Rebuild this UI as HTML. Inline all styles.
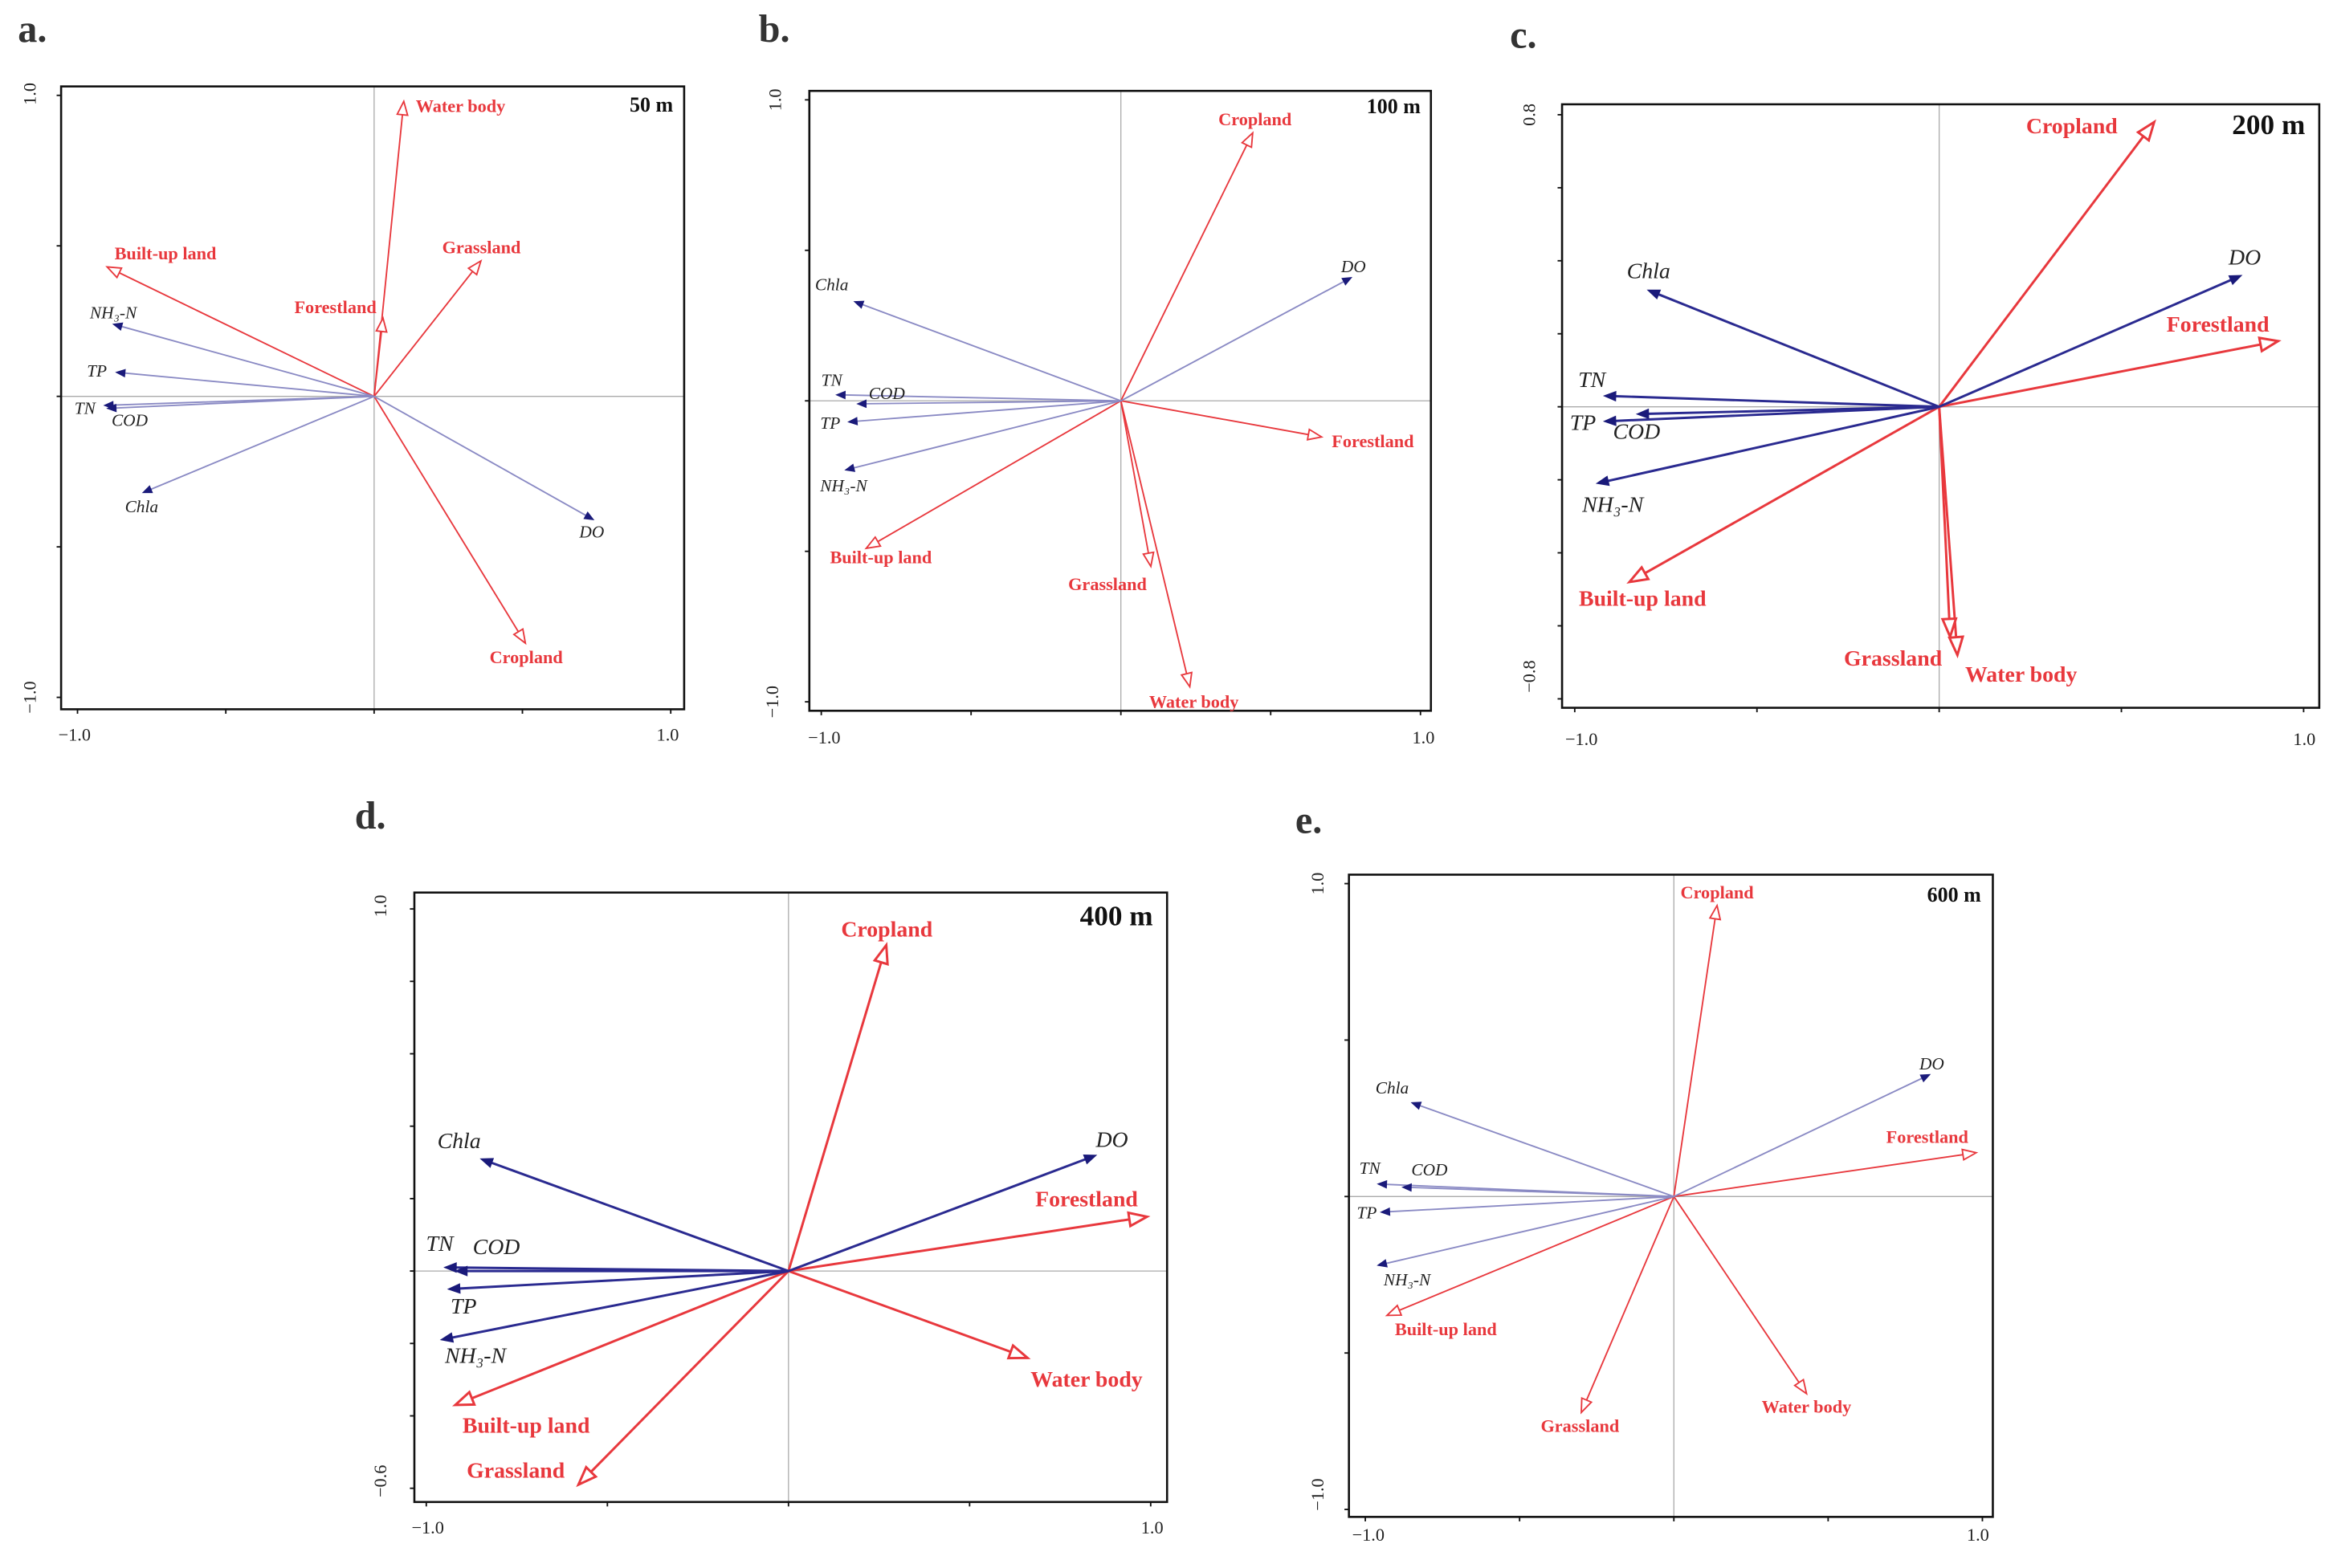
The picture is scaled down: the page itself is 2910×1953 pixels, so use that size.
<!DOCTYPE html>
<html><head><meta charset="utf-8"><style>
html,body{margin:0;padding:0;background:#fff}
svg{display:block}
text{font-family:"Liberation Serif",serif}
</style></head><body>
<svg id="fig" width="2910" height="1953" viewBox="0 0 1567.9 1052.3" preserveAspectRatio="none" xmlns="http://www.w3.org/2000/svg"></svg>
<script>
const envNames=["Water body","Built-up land","Grassland","Forestland","Cropland"];
const varNames=["NH₃-N","TP","TN","COD","Chla","DO"];
const aEnvX=[0.10,-0.90,0.36,0.03,0.51], aEnvY=[0.98,0.43,0.45,0.26,-0.82];
const aVarX=[-0.88,-0.87,-0.91,-0.90,-0.78,0.74], aVarY=[0.24,0.08,-0.03,-0.04,-0.32,-0.41];
const bEnvX=[0.23,-0.85,0.10,0.67,0.44], bEnvY=[-0.95,-0.49,-0.55,-0.12,0.89];
const bVarX=[-0.92,-0.91,-0.95,-0.88,-0.89,0.77], bVarY=[-0.23,-0.07,0.02,-0.01,0.33,0.41];
const cEnvX=[0.05,-0.85,0.03,0.93,0.59], cEnvY=[-0.68,-0.48,-0.63,0.18,0.78];
const cVarX=[-0.94,-0.92,-0.92,-0.83,-0.80,0.83], cVarY=[-0.21,-0.04,0.03,-0.02,0.32,0.36];
const dEnvX=[0.66,-0.92,-0.58,0.99,0.27], dEnvY=[-0.24,-0.37,-0.59,0.15,0.90];
const dVarX=[-0.96,-0.94,-0.95,-0.92,-0.85,0.85], dVarY=[-0.19,-0.05,0.01,0.00,0.31,0.32];
const eEnvX=[0.43,-0.93,-0.30,0.98,0.14], eEnvY=[-0.63,-0.38,-0.69,0.14,0.93];
const eVarX=[-0.96,-0.95,-0.96,-0.88,-0.85,0.83], eVarY=[-0.22,-0.05,0.04,0.03,0.30,0.39];
const aXTicks=[-1,-0.5,0,0.5,1], aYTicks=[-1,-0.5,0,0.5,1];
const cYTicks=[-0.8,-0.6,-0.4,-0.2,0,0.2,0.4,0.6,0.8];
const dYTicks=[-0.6,-0.4,-0.2,0,0.2,0.4,0.6,0.8,1.0];

const panels=[
 {id:"a",letter:"a.",lx:12,ly:28,scale:"50 m",sx:437,sy:75,frame:[41,58,459,476],cx:251,cy:266,ux:199,uy:202,
  ex:aEnvX,ey:aEnvY,vx:aVarX,vy:aVarY,xt:aXTicks,yt:aYTicks,big:false,
  xl:[["−1.0",50,497],["1.0",448,497]],yl:[["1.0",20,63],["−1.0",20,468]],
  envL:[[309,71],[111,170],[323,166],[225,206],[353,441]],varL:[[76,210],[65,249],[57,274],[87,282],[95,340],[397,357]]},
 {id:"b",letter:"b.",lx:509,ly:28,scale:"100 m",sx:935,sy:76,frame:[543,61,960,477],cx:752,cy:269,ux:201,uy:202,
  ex:bEnvX,ey:bEnvY,vx:bVarX,vy:bVarY,xt:aXTicks,yt:aYTicks,big:false,
  xl:[["−1.0",553,499],["1.0",955,499]],yl:[["1.0",520,67],["−1.0",518,471]],
  envL:[[801,471],[591,374],[743,392],[921,296],[842,80]],varL:[[566,326],[557,284],[558,255],[595,264],[558,191],[908,179]]},
 {id:"c",letter:"c.",lx:1013,ly:32,scale:"200 m",sx:1522,sy:90,frame:[1048,70,1556,475],cx:1301,cy:273,ux:244.5,uy:245,
  ex:cEnvX,ey:cEnvY,vx:cVarX,vy:cVarY,xt:aXTicks,yt:cYTicks,big:true,
  xl:[["−1.0",1061,500],["1.0",1546,500]],yl:[["0.8",1026,77],["−0.8",1026,454]],
  envL:[[1356,453],[1102,402],[1270,442],[1488,218],[1390,85]],varL:[[1082,339],[1062,284],[1068,255],[1098,290],[1106,182],[1506,173]]},
 {id:"d",letter:"d.",lx:238,ly:556,scale:"400 m",sx:749,sy:621,frame:[278,599,783,1008],cx:529,cy:853,ux:243,uy:243,
  ex:dEnvX,ey:dEnvY,vx:dVarX,vy:dVarY,xt:aXTicks,yt:dYTicks,big:true,
  xl:[["−1.0",287,1029],["1.0",773,1029]],yl:[["1.0",255,608],["−0.6",255,994]],
  envL:[[729,926],[353,957],[346,987],[729,805],[595,624]],varL:[[319,910],[311,877],[295,835],[333,837],[308,766],[746,765]]},
 {id:"e",letter:"e.",lx:869,ly:559,scale:"600 m",sx:1311,sy:605,frame:[905,587,1337,1018],cx:1123,cy:803,ux:207,uy:210,
  ex:eEnvX,ey:eEnvY,vx:eVarX,vy:eVarY,xt:aXTicks,yt:aYTicks,big:false,
  xl:[["−1.0",918,1034],["1.0",1327,1034]],yl:[["1.0",884,593],["−1.0",884,1003]],
  envL:[[1212,944],[970,892],[1060,957],[1293,763],[1152,599]],varL:[[944,859],[917,814],[919,784],[959,785],[934,730],[1296,714]]}
];
const NS="http://www.w3.org/2000/svg";
const svg=document.getElementById("fig");
function mk(tag,attrs,parent){const e=document.createElementNS(NS,tag);for(const k in attrs)e.setAttribute(k,attrs[k]);(parent||svg).appendChild(e);return e;}
const RED="#e8383d";
panels.forEach(p=>{
  const g=mk("g",{});
  
  
  const X=v=>p.cx+v*p.ux, Y=v=>p.cy-v*p.uy;
  const [l,t,r,b]=p.frame;
  const lt=mk("text",{x:p.lx,y:p.ly,"font-size":26,"font-weight":"bold",fill:"#333"},g);lt.textContent=p.letter;
  
  
  // crosshair
  mk("line",{x1:l,x2:r,y1:p.cy,y2:p.cy,stroke:"#aaa","stroke-width":0.7},g);
  mk("line",{x1:p.cx,x2:p.cx,y1:t,y2:b,stroke:"#aaa","stroke-width":0.7},g);
  const fr=mk("rect",{x:l,y:t,width:r-l,height:b-t,fill:"none",stroke:"#111","stroke-width":1.4},g);
  
  
  p.xt.forEach(v=>mk("line",{x1:X(v),x2:X(v),y1:b,y2:b+3,stroke:"#111","stroke-width":1},g));
  p.yt.forEach(v=>mk("line",{x1:l,x2:l-3,y1:Y(v),y2:Y(v),stroke:"#111","stroke-width":1},g));
  p.xl.forEach(a=>{const e=mk("text",{x:a[1],y:a[2],"font-size":12,"text-anchor":"middle",fill:"#222"},g);e.textContent=a[0];
    });
  p.yl.forEach(a=>{const e=mk("text",{x:a[1],y:a[2],"font-size":12,"text-anchor":"middle",fill:"#222",transform:`rotate(-90 ${a[1]} ${a[2]})`,"dominant-baseline":"central"},g);e.textContent=a[0];
    });
  const sc=mk("text",{x:p.sx,y:p.sy,"font-size":p.big?19:14,"font-weight":"bold","text-anchor":"middle",fill:"#111"},g);sc.textContent=p.scale;
  
  const lw=p.big?1.6:1, hl=p.big?12:9, hw=p.big?4.5:3.5, fs=p.big?15:12;
  function arrow(x,y,open,color,lineColor){
    const x2=X(x),y2=Y(y),dx=x2-p.cx,dy=y2-p.cy,L=Math.hypot(dx,dy),ux=dx/L,uy=dy/L;
    const len=open?hl:(p.big?8:6), w=open?hw:(p.big?3.2:2.5);
    const bx=x2-ux*len,by=y2-uy*len;
    const ln=mk("line",{x1:p.cx,y1:p.cy,x2:bx,y2:by,stroke:lineColor,"stroke-width":lw},g);
    const pts=`${x2},${y2} ${bx-uy*w},${by+ux*w} ${bx+uy*w},${by-ux*w}`;
    const hd=mk("polygon",{points:pts,fill:open?"#fff":color,stroke:color,"stroke-width":open?lw:0.5},g);
    return [ln,hd];
  }
  p.ex.forEach((v,i)=>{const [ln,hd]=arrow(v,p.ey[i],true,RED,RED);
    
    const tx=mk("text",{x:p.envL[i][0],y:p.envL[i][1],"font-size":fs,"font-weight":"bold","text-anchor":"middle","dominant-baseline":"central",fill:RED},g);
    tx.textContent=envNames[i];});
  p.vx.forEach((v,i)=>{const [ln,hd]=arrow(v,p.vy[i],false,"#1a1a7a",p.big?"#2a2a90":"#8a8ac4");
    
    const tx=mk("text",{x:p.varL[i][0],y:p.varL[i][1],"font-size":p.big?15:11.5,"font-style":"italic","text-anchor":"middle","dominant-baseline":"central",fill:"#222"},g);
    tx.textContent=varNames[i];});
});
</script>
</body></html>
